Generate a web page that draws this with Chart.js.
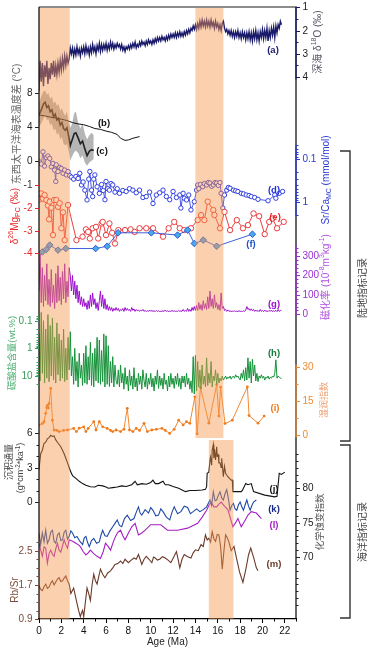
<!DOCTYPE html>
<html lang="zh">
<head>
<meta charset="utf-8">
<title>Age records</title>
<script src="https://cdn.jsdelivr.net/npm/chart.js@4.4.1/dist/chart.umd.min.js"></script>
<style>
  html, body { margin: 0; padding: 0; background: #fff; }
  canvas { display: block; }
</style>
</head>
<body>
<canvas id="chart" width="374" height="652"></canvas>
<script>
// ---- values, age in Ma ----

// (a) deep-sea d18O, one value every 0.1 Ma starting at 0 Ma
const d18oStep = 0.1;
const d18oValues = [
  4.6, 3.3, 4.2, 3.4, 4.4, 3.5, 4.0, 3.3, 4.3, 3.6,
  4.1, 3.4, 3.9, 3.3, 4.0, 3.5, 3.9, 3.4, 3.8, 3.3,
  3.7, 3.2, 3.6, 3.1, 3.5, 3.1, 3.4, 3.2, 2.75, 3.0,
  2.75, 3.1, 2.8, 3.05, 2.7, 3.0, 2.8, 3.1, 2.75, 2.95,
  2.7, 3.0, 2.65, 2.95, 2.75, 3.05, 2.7, 2.95, 2.6, 2.9,
  2.7, 3.0, 2.65, 2.85, 2.55, 2.9, 2.6, 2.85, 2.6, 2.8,
  2.55, 2.85, 2.6, 2.8, 2.5, 2.75, 2.55, 2.8, 2.6, 2.75,
  2.55, 2.7, 2.6, 2.8, 2.6, 2.85, 2.7, 2.9, 2.7, 2.8,
  2.65, 2.8, 2.6, 2.75, 2.55, 2.7, 2.5, 2.75, 2.6, 2.7,
  2.5, 2.65, 2.45, 2.6, 2.5, 2.65, 2.45, 2.6, 2.4, 2.55,
  2.45, 2.6, 2.4, 2.55, 2.35, 2.5, 2.3, 2.45, 2.3, 2.45,
  2.25, 2.4, 2.3, 2.45, 2.25, 2.4, 2.2, 2.35, 2.15, 2.3,
  2.15, 2.3, 2.1, 2.3, 2.1, 2.25, 2.05, 2.25, 2.1, 2.25,
  2.05, 2.2, 2.0, 2.15, 1.95, 2.1, 1.9, 2.0, 1.8, 1.95,
  1.75, 1.95, 1.7, 1.9, 1.6, 1.85, 1.55, 1.8, 1.6, 1.85,
  1.55, 1.8, 1.6, 1.85, 1.55, 1.8, 1.65, 1.9, 1.6, 1.85,
  1.7, 1.95, 1.75, 2.0, 1.7, 1.6, 1.9, 2.05, 1.95, 2.15,
  2.0, 2.2, 2.0, 2.25, 2.05, 2.3, 2.05, 2.25, 2.0, 2.3,
  2.1, 2.35, 2.05, 2.3, 2.1, 2.4, 2.1, 2.35, 2.05, 2.4,
  2.1, 2.45, 2.05, 2.35, 2.0, 2.4, 2.1, 2.45, 2.05, 2.3,
  1.95, 2.35, 2.0, 2.3, 1.9, 2.45, 2.0, 2.3, 1.9, 2.2,
  1.85, 2.3, 1.8, 2.1, 1.75, 1.9, 1.6, 1.75
];

// (b) east-west Pacific SST difference
const sstPoints = [
  [0, 5.4], [0.5, 5.3], [1, 5.15], [1.5, 5.05], [2, 4.9], [2.5, 4.75], [3, 4.5], [3.5, 4.35],
  [4, 4.25], [4.5, 4.05], [5, 3.8], [5.5, 3.7], [6, 3.5], [6.5, 3.35], [7, 3.1], [7.3, 2.65],
  [7.7, 2.4], [8, 2.45], [8.4, 2.65], [9.0, 2.85]
];

// (c) SST difference record with its error envelope [age, value, low, high]
const sstCPoints = [
  [0, 5.4, 4.0, 6.8], [0.2, 6.0, 4.4, 7.6], [0.4, 6.7, 5.0, 8.2], [0.55, 6.9, 5.3, 8.3],
  [0.7, 6.3, 4.8, 7.8], [0.85, 6.5, 4.9, 8.0], [1.0, 5.8, 4.2, 7.3], [1.15, 6.0, 4.4, 7.6],
  [1.3, 5.2, 3.6, 6.8], [1.45, 5.5, 3.8, 7.0], [1.6, 4.8, 3.1, 6.5], [1.75, 5.0, 3.3, 6.7],
  [1.9, 4.2, 2.5, 5.9], [2.05, 4.5, 2.8, 6.2], [2.2, 3.8, 2.0, 5.6], [2.35, 3.6, 1.8, 5.3],
  [2.5, 3.9, 2.0, 5.8], [2.65, 2.9, 1.2, 4.6], [2.8, 1.8, 0.0, 3.9], [2.95, 2.4, 0.5, 4.3],
  [3.15, 3.2, 1.0, 5.6], [3.3, 3.3, 1.2, 5.8], [3.5, 2.7, 0.9, 4.5], [3.7, 2.0, 0.3, 3.8],
  [3.9, 2.3, 0.6, 4.4], [4.1, 1.4, -0.2, 3.2], [4.3, 0.6, -0.6, 2.5], [4.5, 1.1, -0.2, 3.0],
  [4.7, 1.3, 0.0, 3.3], [4.9, 1.2, 0.2, 3.0]
];

// (d) Sr/Ca (mmol/mol)
const srCaPoints = [
  [0.05, 0.12], [0.2, 0.134], [0.36, 0.07], [0.5, 0.15], [0.65, 0.095], [0.8, 0.0875], [0.96, 0.1],
  [1.1, 0.155], [1.25, 0.13], [1.4, 0.185], [1.5, 0.34], [1.55, 0.14], [1.7, 0.2], [1.85, 0.16],
  [2.0, 0.17], [2.15, 0.22], [2.3, 0.185], [2.45, 0.24], [2.6, 0.2], [2.75, 0.25], [2.9, 0.27],
  [3.1, 0.3], [3.3, 0.26], [3.5, 0.29], [3.65, 0.22], [3.8, 0.41], [3.95, 0.35], [4.1, 0.54],
  [4.3, 0.91], [4.45, 0.3], [4.55, 0.2], [4.7, 0.54], [4.8, 0.76], [4.9, 0.3], [5.0, 0.24],
  [5.2, 0.45], [5.4, 0.64], [5.6, 0.4], [5.75, 0.55], [5.9, 0.9], [6.0, 0.34], [6.15, 0.5],
  [6.3, 0.54], [6.45, 0.38], [6.6, 0.41], [6.8, 0.6], [7.0, 0.5], [7.2, 0.64], [7.5, 0.55],
  [7.8, 0.58], [8.1, 0.5], [8.4, 0.54], [8.7, 0.62], [9.0, 0.54], [9.3, 0.8], [9.6, 0.76],
  [9.9, 0.6], [10.2, 1.1], [10.5, 0.7], [10.8, 0.62], [11.1, 0.54], [11.4, 0.76], [11.7, 0.9],
  [12.0, 0.58], [12.3, 0.8], [12.6, 0.7], [12.7, 1.4], [12.9, 0.64], [13.0, 0.83], [13.2, 0.91],
  [13.4, 0.7], [13.6, 1.55], [13.9, 1.0], [14.1, 0.54], [14.2, 0.41], [14.3, 0.5], [14.45, 0.4],
  [14.65, 0.45], [14.8, 0.38], [15.0, 0.41], [15.15, 0.36], [15.3, 0.37], [15.45, 0.44],
  [15.6, 0.41], [15.75, 0.36], [15.9, 0.37], [16.05, 0.42], [16.2, 0.36], [16.3, 0.64],
  [16.45, 1.4], [16.6, 0.7], [16.8, 0.54], [16.95, 0.47], [17.1, 0.49], [17.4, 0.54],
  [17.6, 0.56], [17.8, 0.58], [18.1, 0.64], [18.3, 0.66], [18.55, 0.7], [18.8, 0.72],
  [19.0, 0.76], [19.3, 0.8], [19.6, 0.88], [20.5, 0.95], [21.1, 0.7], [21.2, 0.83],
  [21.5, 0.64], [21.8, 0.58]
];

// (e) d26Mg PC (per mil)
const mgPoints = [
  [0.06, -1.63], [0.2, -1.37], [0.35, -1.6], [0.5, -1.44], [0.66, -1.66], [0.8, -1.9], [0.9, -2.51],
  [0.96, -1.73], [1.1, -2.0], [1.25, -3.2], [1.35, -1.66], [1.55, -1.66], [1.7, -1.96], [1.85, -1.8],
  [2.0, -2.9], [2.15, -2.2], [2.3, -3.42], [2.6, -1.88], [3.35, -3.42], [3.9, -3.27], [4.2, -2.95],
  [4.4, -3.06], [4.55, -3.35], [4.8, -2.9], [5.1, -2.84], [5.3, -3.35], [5.6, -2.69], [5.7, -2.62],
  [6.0, -3.2], [6.3, -2.69], [6.55, -3.1], [6.8, -3.57], [7.1, -2.98], [7.7, -2.98], [8.2, -2.95],
  [8.56, -3.06], [9.0, -2.9], [9.6, -2.9], [10.2, -2.9], [11.1, -3.27], [11.6, -2.9], [12.1, -2.62],
  [12.6, -2.9], [13.0, -2.98], [13.6, -2.9], [14.2, -2.54], [14.5, -2.32], [14.8, -2.54],
  [15.1, -1.73], [15.6, -2.1], [15.7, -2.32], [16.2, -2.9], [16.6, -2.18], [17.1, -2.98],
  [17.7, -2.54], [18.25, -2.9], [18.7, -2.76], [19.2, -2.25], [19.7, -2.37], [20.2, -3.16],
  [20.6, -2.62], [20.9, -2.47], [21.3, -2.9], [21.9, -2.62]
];

// (f) second d26Mg record
const mgBPoints = [
  [0.3, -3.94], [0.66, -3.83], [0.96, -3.64], [1.7, -3.86], [2.4, -3.79], [5.07, -3.79], [6.1, -3.69],
  [7.07, -3.1], [10.05, -3.1], [12.4, -3.2], [13.3, -2.98], [13.9, -3.57], [14.7, -3.42],
  [15.9, -3.69], [19.1, -3.16]
];

// (g) magnetic susceptibility, one value every 0.1 Ma
const suscStep = 0.1;
const suscValues = [
  120, 310, 60, 240, 40, 200, 70, 260, 50, 180,
  40, 230, 60, 150, 30, 210, 60, 250, 70, 190,
  50, 220, 80, 260, 60, 170, 90, 240, 200, 120,
  200, 100, 170, 80, 150, 60, 120, 50, 90, 40,
  80, 40, 60, 25, 70, 30, 100, 40, 110, 50,
  80, 30, 60, 20, 70, 120, 40, 100, 30, 80,
  25, 50, 20, 40, 20, 35, 15, 30, 20, 35,
  20, 30, 15, 25, 20, 30, 15, 35, 20, 30,
  20, 25, 15, 35, 20, 28, 15, 25, 18, 22,
  15, 20, 18, 25, 15, 20, 15, 18, 15, 22,
  15, 20, 15, 18, 14, 20, 15, 18, 14, 16,
  15, 18, 15, 22, 15, 18, 14, 16, 15, 20,
  15, 18, 15, 16, 14, 20, 15, 18, 15, 25,
  15, 20, 15, 30, 15, 25, 15, 35, 20, 40,
  20, 45, 20, 60, 25, 50, 20, 70, 30, 55,
  25, 90, 30, 120, 40, 80, 30, 100, 35, 60,
  25, 50, 20, 110, 30, 40, 20, 25, 15, 22,
  15, 18, 14, 16, 15, 18, 14, 16, 15, 18,
  15, 16, 14, 18, 15, 22, 40, 25, 30, 20,
  28, 18, 25, 15, 22, 15, 20, 14, 25, 15,
  20, 14, 22, 15, 18, 14, 20, 15, 22, 14,
  18, 15, 20, 14, 25, 15, 20, 18
];

// (h) carbonate content (wt.%), one value every 0.1 Ma
const carbStep = 0.1;
const carbValues = [
  0.3, 15, 0.05, 8, 0.1, 18, 0.2, 12, 0.06, 16,
  0.15, 10, 0.08, 14, 0.4, 18, 0.12, 9, 0.3, 15,
  0.5, 12, 0.2, 16, 1.0, 14, 0.4, 6, 0.25, 10,
  2, 20, 1, 15, 3, 25, 1.5, 12, 4, 22,
  1.5, 18, 0.8, 20, 2, 14, 0.6, 22, 1.5, 25,
  1, 15, 0.4, 18, 0.5, 20, 1.2, 16, 0.3, 25,
  0.35, 20, 0.8, 24, 3, 18, 2, 25, 4, 15,
  20, 6, 25, 4, 18, 8, 30, 5, 20, 10,
  35, 6, 22, 10, 30, 5, 25, 12, 35, 8,
  20, 10, 30, 6, 15, 25, 8, 30, 12, 20,
  8, 25, 12, 35, 10, 20, 6, 28, 10, 22,
  12, 30, 8, 20, 14, 35, 10, 25, 8, 20,
  12, 28, 10, 20, 8, 24, 12, 30, 10, 18,
  10, 25, 8, 20, 12, 30, 15, 40, 2, 45,
  1.8, 35, 3, 25, 6, 30, 4, 20, 10, 25,
  2.2, 22, 8, 18, 3, 25, 10, 15, 6, 20,
  8, 18, 12, 15, 10, 14, 12, 10, 13, 11,
  12, 10, 13, 11, 10, 12, 9, 11, 10, 12,
  14, 8, 12, 6, 15, 5, 14, 2.2, 12, 3,
  18, 2.5, 10, 4, 15, 8, 16, 10, 12, 9,
  12, 10, 14, 11, 12, 10, 13, 11, 12, 10,
  11, 8, 2.6, 12, 10, 11, 12, 12
];

// (i) humidity index
const humidPoints = [
  [0.0, 4.4], [0.3, 5.0], [0.45, 5.8], [0.6, 9.5], [0.7, 12], [0.75, 13], [0.85, 11.8], [0.9, 13.8],
  [1.05, 20.4], [1.2, 6.5], [1.35, 2.2], [1.6, 2.0], [1.8, 1.5], [2.2, 2.0], [2.55, 2.2], [3.1, 2.9],
  [3.35, 1.5], [3.6, 3.0], [4.0, 3.6], [4.2, 1.5], [4.4, 2.9], [4.9, 5.8], [5.1, 2.2], [5.4, 5.8],
  [5.7, 3.6], [6.1, 2.9], [6.4, 2.0], [6.6, 1.5], [6.9, 2.2], [7.3, 1.5], [7.6, 2.5], [7.9, 11.7],
  [8.1, 2.2], [8.4, 1.5], [8.7, 2.9], [9.0, 2.0], [9.4, 5.1], [9.7, 1.5], [10.1, 2.2], [10.5, 2.5],
  [11.0, 2.9], [11.3, 2.0], [11.7, 0.7], [12.1, 2.5], [12.5, 6.5], [12.9, 4.4], [13.2, 5.8],
  [13.5, 5.1], [13.95, 16.7], [14.15, 0.5], [14.45, 20.8], [15.2, 5.2], [15.9, 22.0], [16.1, 8.3],
  [16.25, 21.0], [16.65, 5.0], [17.3, 6.5], [18.65, 21.1], [18.8, 8.5], [19.6, 5.2], [20.15, 8.3]
];

// (j) sediment flux (g*cm-2*ka-1)
const fluxPoints = [
  [0, 2.8], [0.15, 4.2], [0.3, 4.5], [0.45, 5.1], [0.6, 5.2], [0.75, 5.5], [0.9, 5.6], [1.05, 5.8],
  [1.2, 5.7], [1.35, 5.75], [1.5, 5.4], [1.65, 5.2], [1.8, 5.0], [1.95, 4.8], [2.1, 4.5], [2.25, 4.2],
  [2.4, 3.8], [2.55, 3.4], [2.7, 3.0], [2.85, 2.6], [3.0, 2.3], [3.3, 2.05], [3.6, 1.8], [3.9, 1.6],
  [4.2, 1.45], [4.6, 1.33], [5.0, 1.3], [5.3, 1.45], [5.7, 1.4], [6.0, 1.3], [6.2, 1.2], [6.6, 1.25],
  [7.0, 1.3], [7.4, 1.4], [7.8, 1.35], [8.3, 1.5], [8.6, 1.8], [8.8, 1.5], [9.2, 1.6], [9.6, 1.55],
  [10.0, 1.7], [10.2, 1.9], [10.4, 1.6], [10.7, 1.6], [11.1, 1.8], [11.3, 1.5], [11.6, 1.5],
  [12.0, 1.35], [12.5, 1.2], [13.1, 0.9], [13.5, 1.0], [14.0, 1.0], [14.6, 1.05], [14.9, 1.1],
  [15.0, 1.33], [15.05, 2.5], [15.2, 2.6], [15.3, 3.6], [15.35, 3.9], [15.45, 3.2], [15.5, 4.5],
  [15.6, 5.0], [15.65, 3.8], [15.7, 4.6], [15.8, 3.65], [15.9, 4.8], [15.95, 4.0], [16.05, 4.1],
  [16.1, 3.4], [16.2, 3.4], [16.3, 3.0], [16.35, 3.8], [16.5, 2.2], [16.6, 3.1], [16.7, 2.5],
  [16.9, 2.2], [17.2, 1.9], [17.3, 1.9], [17.35, 0.9], [18.1, 0.9], [18.2, 1.0], [18.5, 1.6],
  [18.7, 1.5], [19.0, 1.6], [19.2, 0.9], [20.2, 0.6], [21.1, 0.45], [21.3, 0.5], [21.5, 2.5],
  [21.7, 2.4], [22.0, 2.6]
];

// (k) chemical weathering index, record 1
const ciaKPoints = [
  [0, 73.5], [0.15, 71.8], [0.3, 73.5], [0.45, 72.2], [0.6, 73.9], [0.75, 72.0], [0.9, 72.5],
  [1.05, 73.6], [1.2, 73.9], [1.35, 72.3], [1.5, 72], [1.65, 73.2], [1.8, 73.5], [1.95, 72.4],
  [2.1, 72.5], [2.25, 73.6], [2.4, 73.9], [2.55, 72.6], [2.7, 73], [2.85, 73.8], [3.0, 73.5],
  [3.2, 72.8], [3.4, 73], [3.65, 72.3], [3.9, 71.8], [4.05, 72.8], [4.2, 73], [4.35, 72.1],
  [4.5, 71.5], [4.7, 72.4], [4.9, 72.7], [5.15, 72.0], [5.4, 72.2], [5.55, 73.2], [5.7, 73.9],
  [5.9, 73.1], [6.1, 73], [6.35, 73.8], [6.6, 74.4], [6.8, 74.9], [7.0, 75.4], [7.2, 74.6],
  [7.4, 74.4], [7.65, 75.6], [7.9, 76.1], [8.2, 75.3], [8.5, 75.6], [8.7, 76.5], [8.9, 77.3],
  [9.05, 76.4], [9.2, 76.1], [9.5, 76.9], [9.8, 76.4], [10.0, 77.2], [10.2, 76.8], [10.45, 76.0],
  [10.7, 76.1], [10.9, 77.0], [11.1, 76.6], [11.4, 75.8], [11.7, 75.4], [11.9, 76.5], [12.1, 77.3],
  [12.4, 76.3], [12.7, 76.6], [13.0, 77.4], [13.3, 77.2], [13.55, 76.3], [13.8, 76.6], [14.1, 77.0],
  [14.4, 76.6], [14.7, 76.9], [15.0, 77.3], [15.3, 78.3], [15.45, 77.5], [15.6, 79.5], [15.75, 78.2],
  [15.9, 78.3], [16.05, 79.0], [16.2, 79.5], [16.35, 78.6], [16.5, 78.3], [16.65, 79.2], [16.8, 79.8],
  [16.95, 78.5], [17.1, 76.8], [17.25, 77.5], [17.4, 77.8], [17.55, 77.0], [17.7, 76.8], [17.85, 77.6],
  [18.0, 78.0], [18.15, 77.3], [18.3, 76.8], [18.45, 77.6], [18.6, 78.3], [18.75, 77.4], [18.9, 76.8],
  [19.05, 77.5], [19.2, 78.0], [19.45, 78.3]
];

// (l) chemical weathering index, record 2
const ciaLPoints = [
  [0, 72], [0.15, 71.0], [0.3, 70.1], [0.45, 71.5], [0.6, 71.3], [0.75, 69.1], [0.9, 70.5], [1.05, 71],
  [1.2, 70.4], [1.35, 70.1], [1.5, 71.2], [1.65, 72], [1.8, 71.0], [1.95, 70.7], [2.1, 71.6],
  [2.25, 72.5], [2.4, 71.8], [2.55, 71.3], [2.7, 72.5], [3.0, 72.3], [3.3, 72], [3.5, 71.8], [3.7, 71.5],
  [3.95, 70.8], [4.2, 70.3], [4.4, 70.6], [4.6, 71], [4.9, 70.5], [5.2, 70.1], [5.5, 69.8], [5.75, 70.8],
  [5.95, 72], [6.2, 71.5], [6.4, 71], [6.65, 72.2], [6.85, 73], [7.05, 73.6], [7.3, 73.9], [7.5, 73.1],
  [7.7, 72.5], [8.0, 73.5], [8.3, 74.4], [8.6, 74.9], [8.9, 73.2], [9.2, 73.5], [9.5, 73.9], [10.0, 74.7],
  [10.9, 74.7], [11.5, 73.9], [12.4, 73.9], [13.3, 74.2], [14.2, 74.9], [14.6, 75.8], [15.0, 76.8],
  [15.2, 77.5], [15.4, 78], [15.65, 77.3], [15.9, 77.3], [16.1, 77.7], [16.3, 78], [16.6, 77.4],
  [16.9, 76.9], [17.1, 75.8], [17.35, 74.4], [17.6, 75.0], [17.8, 75.6], [18.1, 74.4], [18.4, 75.2],
  [18.7, 76.1], [19.0, 76.6], [19.45, 76.4], [19.9, 75.6]
];

// (m) Rb/Sr
const rbSrPoints = [
  [0, 1.68], [0.15, 1.6], [0.3, 1.57], [0.45, 1.66], [0.6, 1.72], [0.75, 1.62], [0.9, 1.65], [1.05, 1.74],
  [1.2, 1.8], [1.35, 1.7], [1.5, 1.77], [1.65, 1.84], [1.8, 1.87], [1.95, 1.78], [2.1, 1.8], [2.25, 1.86],
  [2.4, 1.91], [2.55, 1.8], [2.7, 1.72], [2.85, 1.5], [3.0, 1.58], [3.1, 1.63], [3.25, 1.45], [3.4, 1.27],
  [3.55, 1.1], [3.7, 0.96], [3.8, 1.05], [3.9, 1.11], [4.0, 0.96], [4.15, 1.3], [4.3, 1.63], [4.45, 1.5],
  [4.6, 1.34], [4.75, 1.7], [4.9, 1.95], [5.05, 1.8], [5.2, 1.72], [5.35, 1.9], [5.5, 2.07], [5.7, 1.95],
  [5.9, 1.87], [6.15, 1.98], [6.4, 2.03], [6.6, 2.1], [6.8, 2.18], [7.05, 2.2], [7.3, 2.26], [7.5, 2.2],
  [7.7, 2.3], [8.0, 2.22], [8.25, 2.28], [8.5, 2.33], [8.7, 2.3], [8.9, 2.41], [9.05, 2.3], [9.2, 2.18],
  [9.4, 2.3], [9.6, 2.37], [9.85, 2.3], [10.1, 2.22], [10.25, 2.35], [10.4, 2.33], [10.6, 2.28],
  [10.8, 2.3], [11.05, 2.36], [11.3, 2.33], [11.55, 2.28], [11.8, 2.22], [12.05, 2.35], [12.3, 2.48],
  [12.45, 2.3], [12.6, 2.1], [12.8, 2.3], [13.0, 2.41], [13.3, 2.36], [13.6, 2.33], [13.8, 2.45],
  [14.0, 2.52], [14.25, 2.5], [14.5, 2.64], [14.7, 2.6], [14.9, 2.87], [15.05, 2.75], [15.2, 2.79],
  [15.35, 2.7], [15.5, 2.94], [15.65, 2.78], [15.8, 2.72], [15.95, 2.88], [16.1, 2.87], [16.25, 2.6],
  [16.4, 2.07], [16.55, 2.5], [16.7, 2.87], [16.85, 2.8], [17.0, 2.7], [17.2, 2.5], [17.45, 2.6],
  [17.7, 2.3], [17.95, 2.0], [18.25, 1.76], [18.5, 2.05], [18.75, 2.4], [18.95, 2.56], [19.2, 2.35],
  [19.45, 2.1], [19.6, 2.03]
];

// shaded intervals (Ma)
const shadeFrom = [0, 14.0, 15.2];
const shadeTo = [2.75, 16.5, 17.4];

// axis ticks
const ageTicks = [0, 2, 4, 6, 8, 10, 12, 14, 16, 18, 20, 22];
const sstTicks = [8, 4, 0];
const mgTicks = [-1, -2, -3, -4];
const carbTicks = [0.1, 1, 10];
const carbMinor = [0.07, 0.08, 0.09, 0.2, 0.3, 0.4, 0.5, 0.6, 0.7, 0.8, 0.9, 2, 3, 4, 5, 6, 7, 8, 9, 20];
const fluxTicks = [6, 3, 0];
const fluxMinor = [5, 4, 2, 1];
const rbSrTicks = [2.5, 1.7, 0.9];
const rbSrMinor = [2.7, 2.3, 2.1, 1.9, 1.5, 1.3, 1.1];
const d18oTicks = [1, 2, 3, 4];
const d18oMinor = [1.5, 2.5, 3.5];
const srCaTicks = [0.1, 1];
const srCaMinor = [0.05, 0.06, 0.07, 0.08, 0.09, 0.2, 0.3, 0.4, 0.5, 0.6, 0.7, 0.8, 0.9, 2];
const suscTicks = [300, 200, 100, 0];
const suscMinor = [20, 40, 60, 80, 120, 140, 160, 180, 220, 240, 260, 280, 320, 340];
const humidTicks = [30, 15, 0];
const humidMinor = [22.5, 7.5];
const ciaTicks = [80, 75, 70];
const ciaMinor = [63, 64, 65, 66, 67, 68, 69, 71, 72, 73, 74, 76, 77, 78, 79, 81, 82, 83, 84, 85];

// ---- layout helpers ----
const FONT = '"Liberation Sans", Arial, "Noto Sans CJK SC", sans-serif';
const AREA_TOP = 7, AREA_BOTTOM = 619;

// every panel shares the full plot height; pick min/max so two known
// value -> pixel anchors land where they sit in the figure
function linRange(v1, p1, v2, p2) {
  const s = (p2 - p1) / (v2 - v1);
  const atTop = v1 + (AREA_TOP - p1) / s;
  const atBottom = v1 + (AREA_BOTTOM - p1) / s;
  return s < 0
    ? { type: 'linear', min: atBottom, max: atTop, reverse: false }
    : { type: 'linear', min: atTop, max: atBottom, reverse: true };
}
function logRange(v1, p1, v2, p2) {
  const r = linRange(Math.log10(v1), p1, Math.log10(v2), p2);
  return { type: 'logarithmic', min: Math.pow(10, r.min), max: Math.pow(10, r.max), reverse: r.reverse };
}
function hidden(range) {
  return Object.assign({ display: false, bounds: 'data' }, range);
}

const stepped = (values, step) => values.map((y, i) => ({ x: +(i * step).toFixed(2), y }));
const paired = (points, col) => points.map(p => ({ x: p[0], y: p[col || 1] }));

function line(label, data, axis, color, width, extra) {
  return Object.assign({
    label, data, yAxisID: axis,
    borderColor: color, backgroundColor: color,
    borderWidth: width, pointRadius: 0, tension: 0, fill: false
  }, extra || {});
}

const datasets = [
  line('(b)', paired(sstPoints), 'ySst', '#111', 1),
  line('(c)', paired(sstCPoints), 'ySst', '#222', 1.6),
  line('(c) high', paired(sstCPoints, 3), 'ySst', 'rgba(0,0,0,0)', 0,
    { fill: '+1', backgroundColor: 'rgba(150,150,150,0.7)' }),
  line('(c) low', paired(sstCPoints, 2), 'ySst', 'rgba(0,0,0,0)', 0),
  line('(a)', stepped(d18oValues, d18oStep), 'yD18o', '#1a1a6b', 1.4),
  line('(f)', paired(mgBPoints), 'yMg', '#2a50d8', 0.9,
    { pointStyle: 'rectRot', pointRadius: 3.3, pointBackgroundColor: '#48a8ec', pointBorderColor: '#1f4fd0', pointBorderWidth: 0.9 }),
  line('(e)', paired(mgPoints), 'yMg', '#e8292b', 0.9,
    { pointRadius: 2.7, pointBackgroundColor: '#fff', pointBorderColor: '#e8292b', pointBorderWidth: 0.9 }),
  line('(d)', paired(srCaPoints), 'ySrCa', '#1f2fdd', 0.8,
    { pointRadius: 2.2, pointBackgroundColor: '#fff', pointBorderColor: '#1f2fdd', pointBorderWidth: 0.9 }),
  line('(g)', stepped(suscValues, suscStep), 'ySusc', '#9a10cc', 1),
  line('(h)', stepped(carbValues, carbStep), 'yCarb', '#16913a', 1),
  line('(i)', paired(humidPoints), 'yHumid', '#f07a1a', 0.9,
    { pointRadius: 1.4, pointBackgroundColor: '#f07a1a', pointBorderWidth: 0 }),
  line('(j)', paired(fluxPoints), 'yFlux', '#111', 1.1),
  line('(k)', paired(ciaKPoints), 'yCia', '#1f4aa8', 1.1),
  line('(l)', paired(ciaLPoints), 'yCia', '#a51fc4', 1.1),
  line('(m)', paired(rbSrPoints), 'yRbSr', '#6a3a2a', 1.1)
];

// ---- drawing of shading, axis ticks and titles ----
function vtext(ctx, parts, cx, cy, color, size) {
  ctx.save();
  ctx.translate(cx, cy);
  ctx.rotate(-Math.PI / 2);
  ctx.fillStyle = color;
  ctx.textBaseline = 'middle';
  ctx.textAlign = 'left';
  const fontFor = p => (p[1] ? size * 0.7 : size) + 'px ' + FONT;
  let total = 0;
  parts.forEach(p => { ctx.font = fontFor(p); total += ctx.measureText(p[0]).width; });
  let x = -total / 2;
  parts.forEach(p => {
    ctx.font = fontFor(p);
    const dy = p[1] === 'sup' ? -size * 0.35 : p[1] === 'sub' ? size * 0.3 : 0;
    ctx.fillText(p[0], x, dy);
    x += ctx.measureText(p[0]).width;
  });
  ctx.restore();
}

function axisTicks(chart, spec) {
  const { ctx, chartArea } = chart;
  const sc = chart.scales[spec.axis];
  const left = spec.side === 'left';
  const x0 = left ? chartArea.left : chartArea.right;
  const dir = left ? -1 : 1;
  ctx.save();
  ctx.strokeStyle = spec.color;
  ctx.lineWidth = 1;
  const mark = (v, len) => {
    const y = Math.round(sc.getPixelForValue(v)) + 0.5;
    ctx.beginPath();
    ctx.moveTo(x0, y);
    ctx.lineTo(x0 + dir * len, y);
    ctx.stroke();
    return y;
  };
  (spec.minor || []).forEach(v => mark(v, 2.5));
  ctx.font = '10px ' + FONT;
  ctx.textAlign = left ? 'right' : 'left';
  ctx.textBaseline = 'middle';
  spec.major.forEach((v, i) => {
    const y = mark(v, 4);
    ctx.fillStyle = spec.labelColors ? spec.labelColors[i] : spec.color;
    ctx.fillText(String(v), x0 + dir * 6.5, y);
  });
  ctx.restore();
}

const decorations = {
  id: 'decorations',
  afterDatasetsDraw(chart) {
    const { ctx, chartArea: area, scales } = chart;
    const x = scales.x;

    // orange intervals, laid over the curves
    const shadeRows = [[area.top, area.bottom], [area.top, 438], [440, area.bottom]];
    ctx.save();
    ctx.fillStyle = 'rgba(246,150,78,0.45)';
    shadeFrom.forEach((from, i) => {
      const x0 = x.getPixelForValue(from), x1 = x.getPixelForValue(shadeTo[i]);
      ctx.fillRect(x0, shadeRows[i][0], x1 - x0, shadeRows[i][1] - shadeRows[i][0]);
    });
    ctx.restore();

    // frame: grey top, black left, segmented right
    ctx.save();
    ctx.lineWidth = 1.8;
    ctx.strokeStyle = '#8c8c8c';
    ctx.beginPath(); ctx.moveTo(area.left, area.top); ctx.lineTo(area.right + 1, area.top); ctx.stroke();
    ctx.lineWidth = 1.2;
    ctx.strokeStyle = '#000';
    ctx.beginPath(); ctx.moveTo(area.left, area.top); ctx.lineTo(area.left, area.bottom); ctx.stroke();
    ctx.beginPath(); ctx.moveTo(area.right, area.top); ctx.lineTo(area.right, area.bottom); ctx.stroke();
    const rightSegments = [
      ['yD18o', 1, 4.1, '#1a1a6b'], ['ySrCa', 0.05, 2.2, '#2a3ad0'],
      ['ySusc', -8, 360, '#9a30d0'], ['yHumid', -1, 31, '#f08a30']
    ];
    rightSegments.forEach(([id, a, b, c]) => {
      ctx.strokeStyle = c;
      ctx.beginPath();
      ctx.moveTo(area.right, scales[id].getPixelForValue(a));
      ctx.lineTo(area.right, scales[id].getPixelForValue(b));
      ctx.stroke();
    });
    // minor age ticks
    ctx.lineWidth = 1;
    ctx.strokeStyle = '#000';
    for (let v = 1; v <= 23; v += 2) {
      const px = Math.round(x.getPixelForValue(v)) + 0.5;
      ctx.beginPath(); ctx.moveTo(px, area.bottom); ctx.lineTo(px, area.bottom + 2.5); ctx.stroke();
    }
    ctx.restore();

    [
      { axis: 'ySst', side: 'left', major: sstTicks, color: '#222' },
      { axis: 'yMg', side: 'left', major: mgTicks, color: '#e8292b', labelColors: ['#333', '#e8292b', '#e8292b', '#e8292b'] },
      { axis: 'yCarb', side: 'left', major: carbTicks, minor: carbMinor, color: '#3a9c5a' },
      { axis: 'yFlux', side: 'left', major: fluxTicks, minor: fluxMinor, color: '#222' },
      { axis: 'yRbSr', side: 'left', major: rbSrTicks, minor: rbSrMinor, color: '#7a4a3a' },
      { axis: 'yD18o', side: 'right', major: d18oTicks, minor: d18oMinor, color: '#1a1a6b', labelColors: ['#222', '#222', '#222', '#222'] },
      { axis: 'ySrCa', side: 'right', major: srCaTicks, minor: srCaMinor, color: '#2a3ad0' },
      { axis: 'ySusc', side: 'right', major: suscTicks, minor: suscMinor, color: '#9a30d0' },
      { axis: 'yHumid', side: 'right', major: humidTicks, minor: humidMinor, color: '#f08a30' },
      { axis: 'yCia', side: 'right', major: ciaTicks, minor: ciaMinor, color: '#222' }
    ].forEach(spec => axisTicks(chart, spec));

    // axis titles
    vtext(ctx, [['东西太平洋海表温度差 (°C)', '']], 17, 124, '#666', 10);
    vtext(ctx, [['δ', ''], ['26', 'sup'], ['Mg', ''], ['PC', 'sub'], [' (‰)', '']], 15, 216, '#e8292b', 10);
    vtext(ctx, [['碳酸盐含量(wt.%)', '']], 12, 353, '#4caf70', 9.5);
    vtext(ctx, [['沉积通量', '']], 10, 462, '#444', 9);
    vtext(ctx, [['(g*cm', ''], ['-2', 'sup'], ['*ka', ''], ['-1', 'sup'], [')', '']], 21, 468, '#444', 9);
    vtext(ctx, [['Rb/Sr', '']], 15, 590, '#7a4a3a', 10);
    vtext(ctx, [['深海 δ', ''], ['18', 'sup'], ['O (‰)', '']], 318, 42, '#556', 10);
    vtext(ctx, [['Sr/Ca', ''], ['MC', 'sub'], [' (mmol/mol)', '']], 326, 180, '#2a3ad0', 10);
    vtext(ctx, [['磁化率 (10', ''], ['-8', 'sup'], ['m', ''], ['3', 'sup'], ['kg', ''], ['-1', 'sup'], [')', '']], 326, 277, '#b050e0', 10);
    vtext(ctx, [['湿润指数', '']], 325, 400, '#f0a070', 9);
    vtext(ctx, [['化学蚀变指数', '']], 320, 522, '#555', 9.5);
    vtext(ctx, [['陆地指标记录', '']], 363, 288, '#444', 10);
    vtext(ctx, [['海洋指标记录', '']], 363, 532, '#444', 10);

    // brackets on the far right
    ctx.save();
    ctx.strokeStyle = '#333';
    ctx.lineWidth = 1.4;
    [[151, 441], [445, 618]].forEach(([y0, y1]) => {
      ctx.beginPath();
      ctx.moveTo(340, y0); ctx.lineTo(350, y0); ctx.lineTo(350, y1); ctx.lineTo(340, y1);
      ctx.stroke();
    });
    ctx.restore();

    // series tags
    ctx.save();
    ctx.font = 'bold 9.5px ' + FONT;
    ctx.textAlign = 'center';
    ctx.textBaseline = 'middle';
    [
      ['(a)', 273, 50, '#1a1a6b'], ['(b)', 104, 123, '#111'], ['(c)', 102, 151, '#111'],
      ['(d)', 274, 190, '#1f2fdd'], ['(e)', 275, 217, '#e8292b'], ['(f)', 251, 244, '#1f4fd0'],
      ['(g)', 274, 304, '#9a10cc'], ['(h)', 274, 353, '#167a3a'], ['(i)', 275, 408, '#f07a1a'],
      ['(j)', 274, 489, '#111'], ['(k)', 274, 509, '#1a2a8a'], ['(l)', 274, 525, '#a020c0'],
      ['(m)', 274, 564, '#6a3a2a']
    ].forEach(([t, tx, ty, c]) => { ctx.fillStyle = c; ctx.fillText(t, tx, ty); });
    ctx.restore();
  }
};

new Chart(document.getElementById('chart'), {
  type: 'line',
  data: { datasets },
  options: {
    responsive: false,
    animation: false,
    devicePixelRatio: 1,
    layout: { padding: { left: 39, right: 78, top: AREA_TOP, bottom: 0 } },
    plugins: { legend: { display: false }, tooltip: { enabled: false } },
    scales: {
      x: {
        type: 'linear', min: 0, max: 23,
        afterFit: s => { s.height = 652 - AREA_BOTTOM; },
        afterBuildTicks: s => { s.ticks = ageTicks.map(v => ({ value: v })); },
        border: { display: true, color: '#000', width: 1.2 },
        grid: { display: true, drawOnChartArea: false, drawTicks: true, tickLength: 4, color: '#000' },
        ticks: { padding: 2, color: '#111', font: { size: 10, family: FONT }, maxRotation: 0, autoSkip: false },
        title: { display: true, text: 'Age (Ma)', color: '#222', font: { size: 10, family: FONT }, padding: { top: 0, bottom: 4 } }
      },
      yD18o: hidden(linRange(1, 7.3, 4, 77)),
      ySst: hidden(linRange(8, 93, 0, 160.7)),
      ySrCa: hidden(logRange(0.1, 158.5, 1, 201.7)),
      yMg: hidden(linRange(-1, 185, -4, 253.3)),
      ySusc: hidden(linRange(0, 314.3, 300, 256)),
      yCarb: hidden(logRange(0.1, 320.7, 10, 376)),
      yHumid: hidden(linRange(0, 435, 30, 366.5)),
      yFlux: hidden(linRange(0, 502, 6, 433)),
      yCia: hidden(linRange(80, 488.3, 70, 557)),
      yRbSr: hidden(linRange(0.9, 619.3, 2.5, 550.7))
    }
  },
  plugins: [decorations]
});
</script>
</body>
</html>
